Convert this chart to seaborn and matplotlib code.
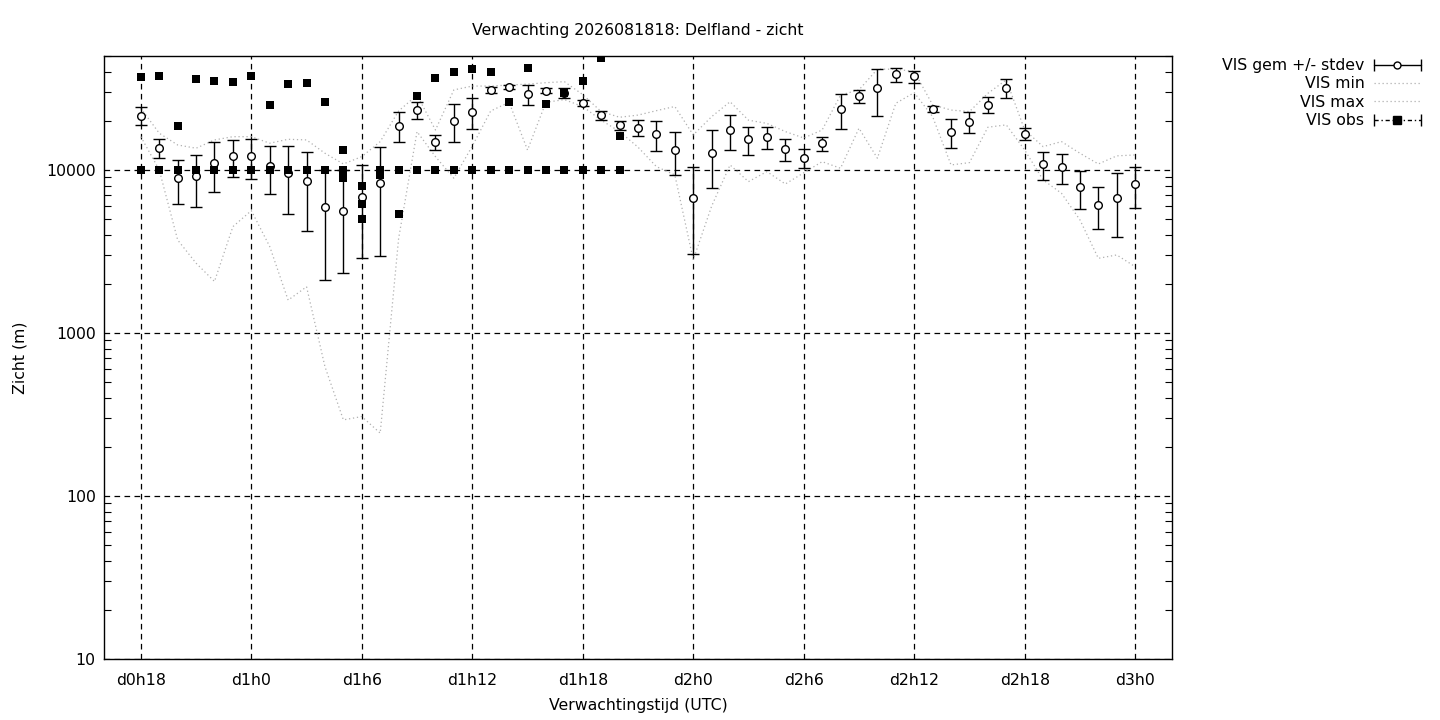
import numpy as np
import pandas as pd
import matplotlib
matplotlib.use('Agg')
import matplotlib.pyplot as plt
import seaborn as sns
from matplotlib.lines import Line2D
from matplotlib.legend_handler import HandlerLine2D, HandlerTuple
from matplotlib.ticker import LogLocator, NullFormatter, FixedLocator

# uren na d0h18 (0 .. 54)
hours = list(range(55))

vis_gem = [21400, 13650, 8900, 9150, 11000, 12200, 12200, 10570, 9630, 8560,
           5900, 5580, 6830, 8360, 18540, 23230, 14850, 19900, 22600, 30830,
           32130, 29100, 30680, 29800, 25630, 21660, 18800, 18030, 16560, 13200,
           6700, 12650, 17500, 15420, 15860, 13400, 11790, 14600, 23570, 28300,
           31680, 38650, 37560, 23570, 17020, 19620, 25070, 31680, 16560, 10840,
           10390, 7830, 6070, 6700, 8170]
vis_hi = [24300, 15400, 11470, 12300, 14850, 15300, 15400, 14030, 14030, 12830,
          10000, 10000, 10730, 13780, 22600, 26000, 16330, 25300, 27550, 32300,
          33000, 33100, 32000, 31970, 26850, 23100, 20000, 20170, 19900, 17020,
          10390, 17580, 21660, 18280, 18280, 15420, 13500, 16000, 29240, 30830,
          41800, 42440, 40450, 24700, 20480, 22600, 27940, 35950, 18030, 12830,
          12480, 9860, 7830, 9550, 10480]
vis_lo = [18800, 11850, 6180, 5950, 7300, 9100, 8770, 7130, 5370, 4230,
          2110, 2320, 2870, 2950, 14850, 20480, 13200, 14850, 17770, 29500,
          31300, 25070, 29500, 27800, 24700, 20270, 17580, 16100, 13080, 9270,
          3040, 7720, 13200, 12300, 13400, 11300, 10240, 13080, 17770, 25630,
          21320, 34500, 34050, 22700, 13590, 16800, 22280, 27550, 15200, 8650,
          8170, 5740, 4330, 3860, 5820]

vis_min = [16000, 10000, 3720, 2680, 2070, 4490, 5630, 3390, 1590, 1920,
           621, 293, 307, 243, 3800, 17180, 12070, 8900, 14000, 23000,
           26000, 13250, 26000, 27000, 24500, 20200, 17200, 13800, 10480, 9320,
           2810, 6000, 10730, 8480, 9770, 8200, 9600, 11240, 10240, 18030,
           11800, 25630, 29800, 21230, 10730, 11090, 18280, 18900, 13250, 8690,
           7190, 4940, 2870, 3010, 2550]
vis_max = [23900, 16800, 14230, 13590, 15280, 16000, 16000, 14590, 15420, 15280,
           12660, 10880, 12070, 14920, 23000, 28800, 17580, 30970, 32700, 32700,
           33200, 33600, 34300, 34800, 29000, 22800, 21050, 21700, 23100, 24500,
           16400, 21230, 26200, 20200, 19300, 17200, 15700, 17580, 28800, 31000,
           41500, 41500, 40200, 25100, 23300, 22800, 29500, 35700, 17580, 13900,
           14920, 12660, 10880, 12200, 12360]

# waarnemingen (meerdere stations), uren 0 .. 26
obs_hours = list(range(27))
obs_a = [37350, 37800, 18600, 36100, 35200, 34500, 37800, 25100, 33700, 34000,
         26000, 13300, 7980, 10000, 5370, 28400, 36600, 39700, 41700, 39700,
         26000, 42100, 25300, 29500, 35000, 48400, 16100]
obs_b = [10000, 10000, 10000, 10000, 10000, 10000, 10000, 10000, 10000, 10000,
         10000, 10000, 6160, 10000, 10000, 10000, 10000, 10000, 10000, 10000,
         10000, 10000, 10000, 10000, 10000, 10000, 10000]
obs_c = [np.nan] * 11 + [8930, 5000, 9320] + [np.nan] * 13

tick_hours = [0, 6, 12, 18, 24, 30, 36, 42, 48, 54]
tick_labels = ['d0h18', 'd1h0', 'd1h6', 'd1h12', 'd1h18', 'd2h0', 'd2h6', 'd2h12', 'd2h18', 'd3h0']

sns.set_theme(style='white')
plt.rcParams['font.family'] = ['DejaVu Sans']
plt.rcParams['text.color'] = 'black'
plt.rcParams['axes.labelcolor'] = 'black'
plt.rcParams['xtick.color'] = 'black'
plt.rcParams['ytick.color'] = 'black'
fs = 11.3
grijs = '#b0b0b0'
stip = (0, (1, 2.2))

df = pd.DataFrame({'uur': hours, 'gem': vis_gem, 'hi': vis_hi, 'lo': vis_lo,
                   'min': vis_min, 'max': vis_max})
obs = pd.DataFrame({'uur': obs_hours * 3, 'vis': obs_a + obs_b + obs_c}).dropna()

fig = plt.figure(figsize=(14.4, 7.2), dpi=100)
ax = fig.add_axes([104 / 1440, 61 / 720, 1068 / 1440, 603 / 720])

sns.lineplot(data=df, x='uur', y='min', ax=ax, color=grijs, linestyle=stip, linewidth=0.9)
sns.lineplot(data=df, x='uur', y='max', ax=ax, color=grijs, linestyle=stip, linewidth=0.9)

ax.errorbar(df['uur'], df['gem'],
            yerr=[df['gem'] - df['lo'], df['hi'] - df['gem']],
            fmt='o', color='black', mfc='white', mec='black', ms=5.5, mew=1.0,
            elinewidth=1.0, capsize=4.5, capthick=1.0, zorder=4)

sns.scatterplot(data=obs, x='uur', y='vis', ax=ax, marker='s', color='black',
                s=38, edgecolor='black', linewidth=0, zorder=5)

ax.set_yscale('log')
ax.set_ylim(10, 50000)
ax.set_xlim(-2, 56)

ax.xaxis.set_major_locator(FixedLocator(tick_hours))
ax.set_xticklabels(tick_labels)
ax.yaxis.set_major_locator(FixedLocator([10, 100, 1000, 10000]))
ax.set_yticklabels(['10', '100', '1000', '10000'])
ax.yaxis.set_minor_locator(LogLocator(base=10, subs=np.arange(2, 10)))
ax.yaxis.set_minor_formatter(NullFormatter())

ax.tick_params(axis='x', which='both', length=0, pad=10, labelsize=fs)
ax.tick_params(axis='y', which='major', direction='in', length=0, pad=6, labelsize=fs,
               left=True, right=True)
ax.tick_params(axis='y', which='minor', direction='in', length=5, width=0.8,
               left=True, right=True)

ax.grid(True, which='major', axis='both', color='black', linestyle=(0, (4.5, 3.5)), linewidth=0.9)
for s in ax.spines.values():
    s.set_color('black')
    s.set_linewidth(1.0)

ax.set_xlabel('Verwachtingstijd (UTC)', fontsize=fs, labelpad=7)
ax.set_ylabel('Zicht (m)', fontsize=fs, labelpad=13)
ax.set_title('Verwachting 2026081818: Delfland - zicht', fontsize=fs, pad=15)

# legenda in gnuplot-stijl: tekst rechts uitgelijnd, voorbeeld rechts
h_line = Line2D([], [], color='black', linewidth=1.0)
h_caps = Line2D([], [], color='black', linestyle='none', marker='|', ms=8, mew=1.0)
h_circ = Line2D([], [], color='black', linestyle='none', marker='o', mfc='white', ms=5, mew=1.0)
h_min = Line2D([], [], color=grijs, linestyle=stip, linewidth=0.9)
h_max = Line2D([], [], color=grijs, linestyle=stip, linewidth=0.9)
h_oline = Line2D([], [], color='black', linewidth=1.0, linestyle=(0, (3, 2, 1, 2)))
h_ocaps = Line2D([], [], color='black', linestyle='none', marker='|', ms=8, mew=1.0)
h_sq = Line2D([], [], color='black', linestyle='none', marker='s', ms=5.5)

hmap = {h_caps: HandlerLine2D(numpoints=2, marker_pad=0),
        h_ocaps: HandlerLine2D(numpoints=2, marker_pad=0),
        tuple: HandlerTuple(ndivide=1, pad=0)}
leg = fig.legend([(h_line, h_caps, h_circ), h_min, h_max, (h_oline, h_ocaps, h_sq)],
                 ['VIS gem +/- stdev', 'VIS min', 'VIS max', 'VIS obs'],
                 handler_map=hmap, markerfirst=False, frameon=False,
                 loc='upper right', bbox_to_anchor=(1421 / 1440, 1 - 58 / 720),
                 fontsize=fs, handlelength=3.0, handletextpad=0.6,
                 labelspacing=0.22, borderpad=0, borderaxespad=0)

fig.savefig('out.png', dpi=100)
